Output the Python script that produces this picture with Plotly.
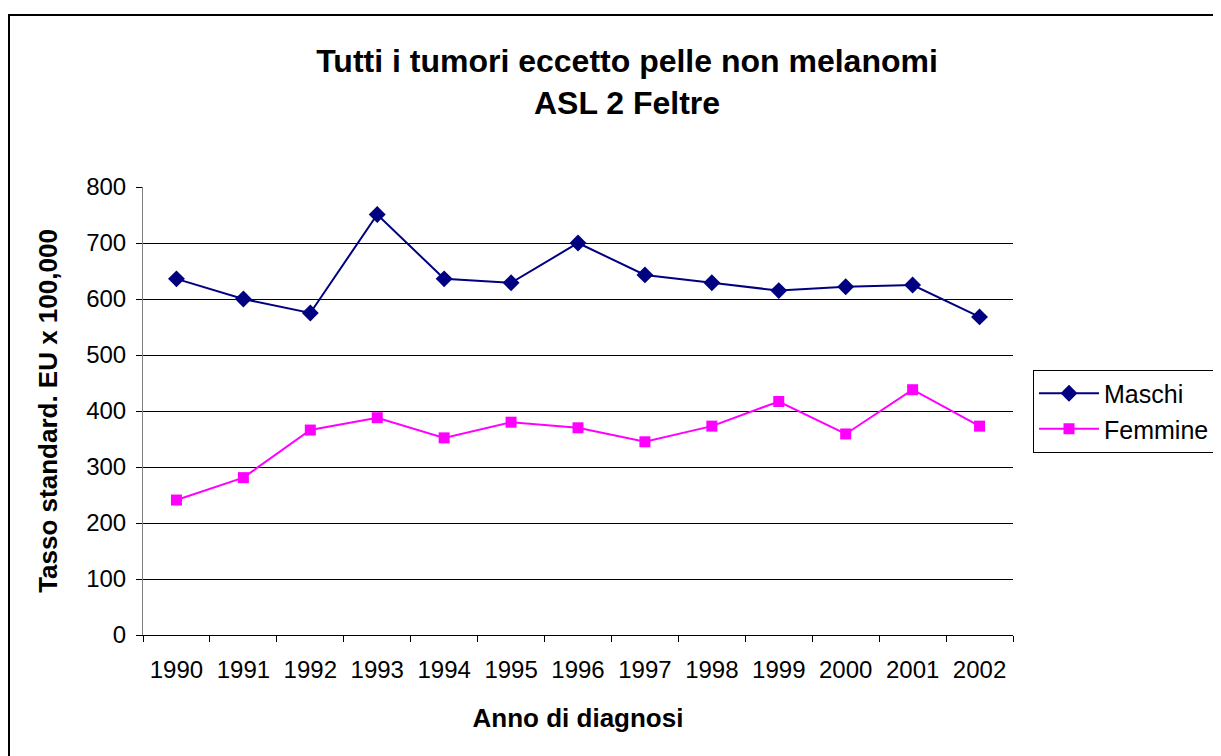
"""Tutti i tumori eccetto pelle non melanomi - ASL 2 Feltre."""

import plotly.graph_objects as go

ANNI = ["1990", "1991", "1992", "1993", "1994", "1995", "1996",
        "1997", "1998", "1999", "2000", "2001", "2002"]
MASCHI = [636, 600, 575, 751, 636, 629, 700, 643, 629, 615, 622, 625, 568]
FEMMINE = [241, 281, 366, 388, 352, 380, 370, 345, 373, 417, 359, 438, 373]

FONT = "Liberation Sans, Arial, sans-serif"
# the page body adds 8px on top/left, so the figure is 8px smaller
OFF = 8
W, H = 1221 - OFF, 756 - OFF
# plot area in page pixels
L, R, T, B = 143 - OFF, 1013 - OFF, 187 - OFF, 635 - OFF

fig = go.Figure()
fig.add_trace(go.Scatter(
    x=ANNI, y=MASCHI, name="Maschi", mode="lines+markers",
    line=dict(color="#000080", width=2),
    marker=dict(symbol="diamond", size=13, color="#000080"),
))
fig.add_trace(go.Scatter(
    x=ANNI, y=FEMMINE, name="Femmine", mode="lines+markers",
    line=dict(color="#FF00FF", width=2),
    marker=dict(symbol="square", size=11, color="#FF00FF"),
))

# outer chart border (right / bottom edges fall outside the page)
pw, ph = R - L, B - T
fig.add_shape(
    type="rect", xref="paper", yref="paper", layer="below",
    x0=(9 - OFF - L) / pw, x1=(1260 - L) / pw,
    y0=1 - (800 - T) / ph, y1=1 + (T - (15 - OFF)) / ph,
    line=dict(color="#000000", width=2), fillcolor="rgba(0,0,0,0)",
)

fig.update_layout(
    width=W, height=H,
    margin=dict(l=L, r=W - R, t=T, b=H - B),
    paper_bgcolor="#FFFFFF", plot_bgcolor="#FFFFFF",
    font=dict(family=FONT, color="#000000", size=24),
    title=dict(
        text="<b>Tutti i tumori eccetto pelle non melanomi<br>ASL 2 Feltre</b>",
        x=(627 - OFF) / W, xanchor="center", xref="container",
        y=1 - (72 - OFF) / H, yanchor="middle", yref="container",
        font=dict(size=32, family=FONT),
    ),
    legend=dict(
        x=(1033 - OFF) / W, xref="container", xanchor="left",
        y=1 - (411 - OFF) / H, yref="container", yanchor="middle",
        bordercolor="#000000", borderwidth=1, bgcolor="#FFFFFF",
        font=dict(size=25, family=FONT),
        itemwidth=60,
    ),
    showlegend=True,
)
fig.update_xaxes(
    type="category", range=[-0.5, 12.5],
    tickson="boundaries", ticks="outside", ticklen=6, tickcolor="#000000",
    ticklabelstandoff=13,
    showline=True, linecolor="#000000", linewidth=1,
    showgrid=False, zeroline=False,
    tickfont=dict(size=24, family=FONT),
    title=dict(text="<b>Anno di diagnosi</b>", font=dict(size=26, family=FONT), standoff=27),
)
fig.update_yaxes(
    range=[0, 800], dtick=100,
    ticks="outside", ticklen=6, tickcolor="#000000",
    ticklabelstandoff=5,
    showline=True, linecolor="#808080", linewidth=1,
    showgrid=True, gridcolor="#000000", gridwidth=1,
    zeroline=False,
    tickfont=dict(size=24, family=FONT),
    title=dict(text="<b>Tasso standard. EU x 100,000</b>", font=dict(size=26, family=FONT), standoff=21),
)

fig.write_html("out.html")
